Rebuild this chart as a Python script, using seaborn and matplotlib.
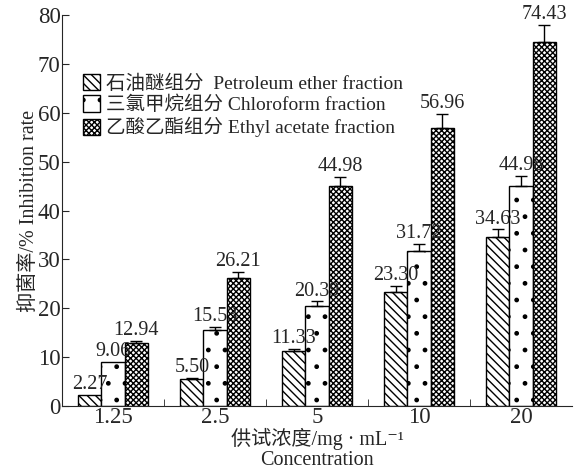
import numpy as np
import pandas as pd
import matplotlib
matplotlib.use("Agg")
import matplotlib.pyplot as plt
import seaborn as sns

concentrations = ["1.25", "2.5", "5", "10", "20"]
fractions = ["石油醚组分  Petroleum ether fraction",
             "三氯甲烷组分 Chloroform fraction",
             "乙酸乙酯组分 Ethyl acetate fraction"]
petroleum = [2.27, 5.50, 11.33, 23.30, 34.63]
chloroform = [9.06, 15.53, 20.39, 31.72, 44.98]
ethyl = [12.94, 26.21, 44.98, 56.96, 74.43]
petroleum_err = [0.0, 0.2, 0.3, 1.2, 1.5]
chloroform_err = [0.0, 0.6, 1.0, 1.5, 2.0]
ethyl_err = [0.3, 1.2, 1.8, 2.8, 3.5]

sns.set_style("ticks")
plt.rcParams['font.family'] = ['Liberation Serif', 'Noto Sans CJK SC', 'DejaVu Serif']
plt.rcParams['hatch.linewidth'] = 1.0
plt.rcParams['axes.unicode_minus'] = False

rows = []
for frac, vals, errs in zip(fractions, [petroleum, chloroform, ethyl],
                            [petroleum_err, chloroform_err, ethyl_err]):
    for c, v, e in zip(concentrations, vals, errs):
        rows.append({"Concentration": c, "Fraction": frac, "Rate": v, "Err": e})
df = pd.DataFrame(rows)

fig = plt.figure(figsize=(5.74, 4.74), dpi=100)
ax = fig.add_axes([0.108, 0.1435, 0.8885, 0.8245])

sns.barplot(data=df, x="Concentration", y="Rate", hue="Fraction",
            order=concentrations, hue_order=fractions, width=0.68,
            palette=["white"] * 3, edgecolor="black", linewidth=1.0,
            errorbar=None, ax=ax)

hatches = ["\\\\\\\\", ".", "xxxxxx"]
for cont, hatch, frac in zip(ax.containers, hatches, fractions):
    sub = df[df["Fraction"] == frac]
    for patch, (_, r) in zip(cont.patches, sub.iterrows()):
        patch.set_hatch(hatch)
        x = patch.get_x() + patch.get_width() / 2
        h = patch.get_height()
        if r["Err"] > 0:
            ax.errorbar(x, h, yerr=[[0], [r["Err"]]], fmt="none",
                        ecolor="black", elinewidth=1.0, capsize=4, capthick=1.0)
        ax.text(x, h + r["Err"] + 0.2, f"{r['Rate']:.2f}", ha="center",
                va="bottom", fontsize=14.5)

ax.set_ylim(0, 80)
ax.set_xlim(-0.5, 4.5)
ax.set_yticks(np.arange(0, 81, 10))
ax.tick_params(axis="y", direction="in", length=5, labelsize=16.5, pad=1)
ax.tick_params(axis="x", which="major", length=0, labelsize=16.5, pad=1)
ax.set_xticks([0.5, 1.5, 2.5, 3.5], minor=True)
ax.tick_params(axis="x", which="minor", direction="in", length=5)
sns.despine(ax=ax)

ax.set_ylabel("抑菌率/% Inhibition rate", fontsize=14.5, labelpad=-1)
ax.set_xlabel("供试浓度/mg · mL⁻¹\nConcentration", fontsize=14.5,
              labelpad=0, linespacing=1.05)

leg = ax.legend(loc="upper left", bbox_to_anchor=(0.025, 0.87), frameon=False,
                fontsize=14, handlelength=0.9, handleheight=0.9,
                handletextpad=0.3, labelspacing=0.15, borderaxespad=0)
for handle, hatch in zip(leg.legend_handles, hatches):
    handle.set_hatch(hatch)
    handle.set_edgecolor("black")
    handle.set_facecolor("white")

fig.savefig("out.png", dpi=100)
